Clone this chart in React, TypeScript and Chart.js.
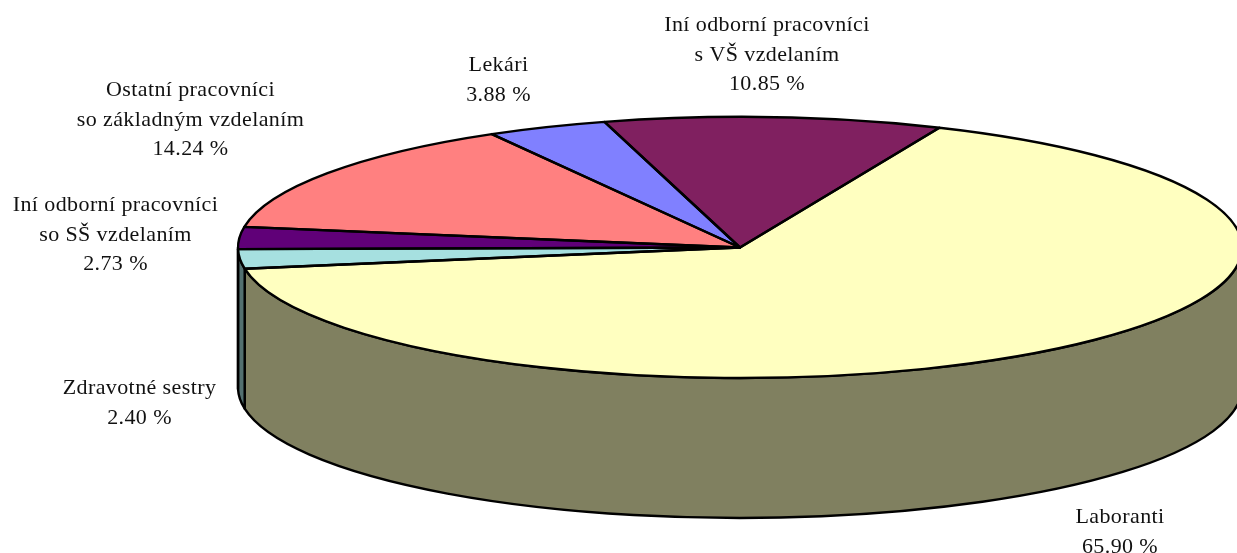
import React, { useEffect, useRef } from "react";
import { Chart, registerables } from "chart.js";

Chart.register(...registerables);

const categories = ["Laboranti", "Zdravotné sestry", "Iní odborní pracovníci so SŠ vzdelaním", "Ostatní pracovníci so základným vzdelaním", "Lekári", "Iní odborní pracovníci s VŠ vzdelaním"];
const values = [65.9, 2.4, 2.73, 14.24, 3.88, 10.85];
const topColors = ["#FFFFC0", "#A6E0E0", "#600078", "#FF8080", "#8080FF", "#802060"];
const wallColors = ["#808060", "#537070", "#300040", "#804040", "#404080", "#401030"];
const labelLines = [
  ["Laboranti", "65.90 %"],
  ["Zdravotné sestry", "2.40 %"],
  ["Iní odborní pracovníci", "so SŠ vzdelaním", "2.73 %"],
  ["Ostatní pracovníci", "so základným vzdelaním", "14.24 %"],
  ["Lekári", "3.88 %"],
  ["Iní odborní pracovníci", "s VŠ vzdelaním", "10.85 %"],
];

// Layout of the tilted pie, in page pixels
const CX = 740;
const CY = 247.5;
const RX = 502;
const RY = 130.5;
const DEPTH = 140;
const ROTATION = 23.4;
const labelAnchors = [
  [1120, 517],
  [139.5, 388],
  [115.5, 205],
  [190.5, 90],
  [498.5, 65],
  [767, 25],
];
const LINE_HEIGHT = 29.8;

const tiltPlugin = {
  id: "tilt",
  beforeDatasetsDraw(chart: any) {
    const ctx = chart.ctx;
    const arcs = chart.getDatasetMeta(0).data;
    ctx.save();
    ctx.lineWidth = 2.4;
    ctx.lineJoin = "round";
    ctx.strokeStyle = "#000";
    arcs.forEach((arc: any, i: number) => {
      for (const shift of [0, Math.PI * 2, -Math.PI * 2]) {
        const a = Math.max(arc.startAngle + shift, 0);
        const b = Math.min(arc.endAngle + shift, Math.PI);
        if (b <= a) continue;
        ctx.beginPath();
        ctx.ellipse(CX, CY, RX, RY, 0, a, b, false);
        ctx.ellipse(CX, CY + DEPTH, RX, RY, 0, b, a, true);
        ctx.closePath();
        ctx.fillStyle = wallColors[i];
        ctx.fill();
        ctx.stroke();
      }
    });
    ctx.restore();
    const first = arcs[0];
    const R = first.outerRadius;
    ctx.save();
    ctx.translate(CX, CY);
    ctx.scale(RX / R, RY / R);
    ctx.translate(-first.x, -first.y);
  },
  afterDatasetsDraw(chart: any) {
    const ctx = chart.ctx;
    ctx.restore();
    const arcs = chart.getDatasetMeta(0).data;
    ctx.save();
    ctx.lineWidth = 2.4;
    ctx.lineJoin = "round";
    ctx.strokeStyle = "#000";
    arcs.forEach((arc: any) => {
      ctx.beginPath();
      ctx.moveTo(CX, CY);
      ctx.ellipse(CX, CY, RX, RY, 0, arc.startAngle, arc.endAngle, false);
      ctx.closePath();
      ctx.stroke();
    });
    ctx.fillStyle = "#111";
    ctx.font = '22px "Liberation Serif"';
    ctx.letterSpacing = "0.4px";
    ctx.textAlign = "center";
    ctx.textBaseline = "middle";
    labelLines.forEach((lines, i) => {
      const [x, y] = labelAnchors[i];
      lines.forEach((line, j) => ctx.fillText(line, x, y + j * LINE_HEIGHT));
    });
    ctx.restore();
  },
};

export default function App() {
  const ref = useRef<HTMLCanvasElement>(null);
  useEffect(() => {
    document.body.style.margin = "0";
    document.body.style.background = "#fff";
    const chart = new Chart(ref.current as HTMLCanvasElement, {
      type: "pie",
      data: {
        labels: categories,
        datasets: [
          {
            data: values,
            backgroundColor: topColors,
            borderWidth: 0,
            clip: false,
          } as any,
        ],
      },
      options: {
        animation: false,
        responsive: false,
        rotation: ROTATION,
        layout: { padding: 0 },
        plugins: { legend: { display: false }, tooltip: { enabled: false }, title: { display: false } },
      },
      plugins: [tiltPlugin],
    });
    return () => chart.destroy();
  }, []);
  return <canvas ref={ref} width={1237} height={553} style={{ display: "block", width: 1237, height: 553 }} />;
}
